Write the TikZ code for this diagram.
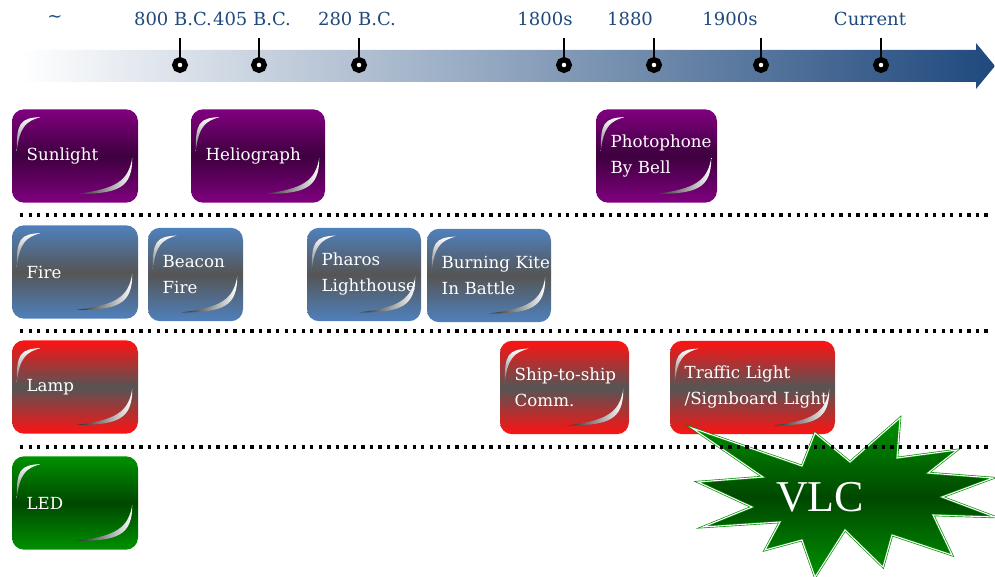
\documentclass[tikz,border=0pt]{standalone}
\usepackage{fontspec}
\setmainfont{DejaVu Serif}
\newfontfamily\vlcfont{Liberation Serif}

\definecolor{tlblue}{RGB}{31,73,125}
\definecolor{tlgray}{RGB}{196,199,210}
\definecolor{purp}{RGB}{128,0,128}
\definecolor{purpdark}{RGB}{62,0,62}
\definecolor{steel}{RGB}{79,129,189}
\definecolor{slate}{RGB}{85,85,85}
\definecolor{lampred}{RGB}{255,18,18}
\definecolor{ledgreen}{RGB}{0,145,0}
\definecolor{ledgreendark}{RGB}{0,72,0}

\begin{document}
\begin{tikzpicture}[x=0.75pt,y=-0.75pt,
  era/.style={rectangle,rounded corners=9pt,minimum height=70pt,inner xsep=11pt,inner ysep=0pt,
    align=left,text=white,font=\fontsize{12.5}{19.5}\selectfont},
  sunrow/.style={top color=purp,bottom color=purp,middle color=purpdark},
  firerow/.style={top color=steel,bottom color=steel,middle color=slate},
  lamprow/.style={top color=lampred,bottom color=lampred,middle color=slate},
  ledrow/.style={top color=ledgreen,bottom color=ledgreen,middle color=ledgreendark},
  curltop/.style={top color=white,bottom color=black!55},
  curlbottom/.style={left color=black!85,right color=white},
  tickdot/.style={circle,draw=black,fill=white,line width=4pt,minimum size=7.9pt,inner sep=0pt},
  yearlabel/.style={text=tlblue,font=\fontsize{13.5}{16}\selectfont},
  rowsep/.style={line width=2.5pt,dash pattern=on 2.5pt off 3.9pt}]

\useasboundingbox (0,0) rectangle (995,577);

\shade[left color=white,middle color=tlgray,right color=tlblue]
  (20,50) -- (976,50) -- (976,43) -- (995,66) -- (976,89) -- (976,82) -- (20,82) -- cycle;

\foreach \tx in {180,259,359,564,654,761,881} {
  \coordinate (s\tx) at (\tx,38);
  \node (t\tx) at (\tx,65) [tickdot] {};
  \draw [line width=2.2pt] (s\tx) -- (t\tx);
}

\foreach \lx/\lt [count=\i] in {55/\textasciitilde,173/800 B.C.,252/405 B.C.,357/280 B.C.,
    545/1800s,630/1880,730/1900s,870/Current}
  \node (l\i) at (\lx,19) [yearlabel] {\lt};

\node (sunlight) at (75,156) [era,sunrow,text width=72.5pt] {Sunlight};
\node (helio) at (258,156) [era,sunrow,text width=78.5pt] {Heliograph};
\node (photo) at (656.5,156) [era,sunrow,text width=68.75pt] {Photophone\\By~Bell};

\node (fire) at (75,272) [era,firerow,text width=72.5pt] {Fire};
\node (beacon) at (195.5,274.5) [era,firerow,text width=49.25pt] {Beacon\\Fire};
\node (pharos) at (364,274.5) [era,firerow,text width=63.5pt] {Pharos\\Lighthouse};
\node (kite) at (489,275.5) [era,firerow,text width=71pt] {Burning~Kite\\In~Battle};

\node (lamp) at (75,387) [era,lamprow,text width=72.5pt] {Lamp};
\node (ship) at (564.5,387.5) [era,lamprow,text width=74.75pt] {\mbox{Ship-to-ship}\\Comm.};
\node (traffic) at (752.5,387.5) [era,lamprow,text width=101.75pt] {Traffic~Light\\/Signboard~Light};

\node (led) at (75,503) [era,ledrow,text width=72.5pt] {LED};

\foreach \b in {sunlight,helio,photo,fire,beacon,pharos,kite,lamp,ship,traffic,led} {
  \shade [curltop] ([shift={(5,42)}]\b.north west)
    .. controls ([shift={(5,14)}]\b.north west) and ([shift={(8,9)}]\b.north west) .. ([shift={(29,8)}]\b.north west)
    .. controls ([shift={(14,12)}]\b.north west) and ([shift={(8,18)}]\b.north west) .. ([shift={(5,42)}]\b.north west);
  \shade [curlbottom] ([shift={(-62,-9)}]\b.south east)
    .. controls ([shift={(-20,-9)}]\b.south east) and ([shift={(-6,-15)}]\b.south east) .. ([shift={(-6,-45)}]\b.south east)
    .. controls ([shift={(-10,-22)}]\b.south east) and ([shift={(-22,-14)}]\b.south east) .. ([shift={(-62,-9)}]\b.south east);
}

\shadedraw [top color=ledgreen,bottom color=ledgreen,middle color=ledgreendark,
    draw=green!55!black,double=white,double distance=0.8pt,line width=0.5pt]
  (692,428) -- (802,466) -- (815,433) -- (850,462) -- (900,418) -- (897,458) -- (957,450)
  -- (928,473) -- (993,478) -- (942,497) -- (995,517) -- (933,515) -- (952,555) -- (892,535)
  -- (883,567) -- (845,530) -- (815,577) -- (802,540) -- (765,550) -- (780,522) -- (703,527)
  -- (752,507) -- (698,482) -- (763,477) -- cycle;
\node (vlc) at (820,497) [text=white,font=\vlcfont\fontsize{33}{33}\selectfont] {VLC};

\draw [rowsep] (20,215) -- (990,215);
\draw [rowsep] (20,331) -- (990,331);
\draw [rowsep] (20,447) -- (990,447);

\end{tikzpicture}
\end{document}
